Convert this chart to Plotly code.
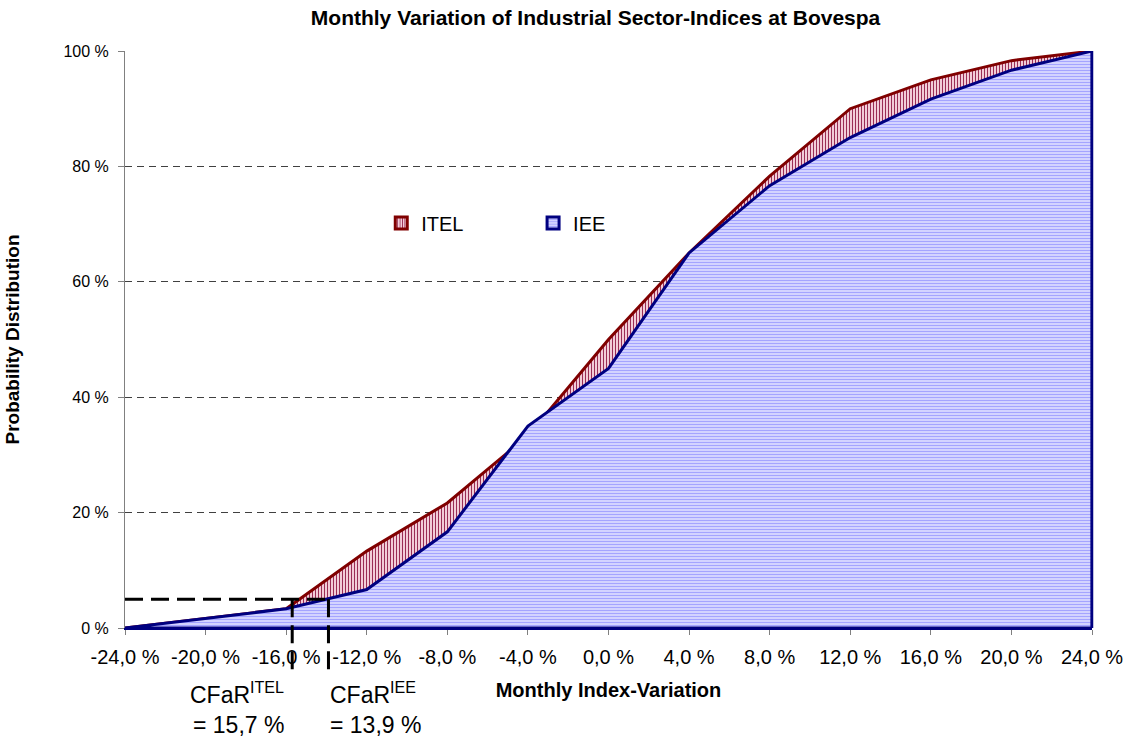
import plotly.graph_objects as go

# Monthly index variation (x, in %) and cumulative probability (y, in %)
variation = [-24, -20, -16, -12, -8, -4, 0, 4, 8, 12, 16, 20, 24]
itel = [0.0, 1.67, 3.33, 13.33, 21.67, 33.33, 50.0, 65.0, 78.33, 90.0, 95.0, 98.33, 100.0]
iee = [0.0, 1.67, 3.33, 6.67, 16.67, 35.0, 45.0, 65.0, 76.67, 85.0, 91.67, 96.67, 100.0]

x_tick_labels = ["-24,0 %", "-20,0 %", "-16,0 %", "-12,0 %", "-8,0 %", "-4,0 %", "0,0 %",
                 "4,0 %", "8,0 %", "12,0 %", "16,0 %", "20,0 %", "24,0 %"]
y_ticks = [0, 20, 40, 60, 80, 100]
y_tick_labels = ["0 %", "20 %", "40 %", "60 %", "80 %", "100 %"]

# Cash-flow-at-risk readings at the 5 % probability level
cfar_level = 5
cfar_itel = 15.7
cfar_iee = 13.9
cfar_itel_label = "15,7 %"
cfar_iee_label = "13,9 %"

FONT = "Arial, 'Liberation Sans', sans-serif"
RED_LINE = "#800000"
BLUE_LINE = "#000080"

itel_pattern = dict(shape="|", fgcolor="#9a2d55", bgcolor="#f2cdd8", size=3, solidity=0.35)
iee_pattern = dict(shape="-", fgcolor="#a4a4ff", bgcolor="#d8d8ff", size=3, solidity=0.4)

# closed polygons: curve, then down the right edge and back along the baseline
poly_x = variation + [variation[-1], variation[0]]

fig = go.Figure()
fig.add_trace(go.Scatter(
    x=poly_x, y=itel + [0, 0], mode="lines", fill="toself",
    fillpattern=itel_pattern, line=dict(color=RED_LINE, width=3),
    showlegend=False, hoverinfo="skip"))
fig.add_trace(go.Scatter(
    x=poly_x, y=iee + [0, 0], mode="lines", fill="toself",
    fillpattern=iee_pattern, line=dict(color=BLUE_LINE, width=3),
    showlegend=False, hoverinfo="skip"))

# legend entries (square patterned swatches)
fig.add_trace(go.Bar(x=[None], y=[None], name="ITEL", legend="legend",
                     marker=dict(color="#f2cdd8", pattern=itel_pattern,
                                 line=dict(color=RED_LINE, width=3))))
fig.add_trace(go.Bar(x=[None], y=[None], name="IEE", legend="legend2",
                     marker=dict(color="#d8d8ff", pattern=iee_pattern,
                                 line=dict(color=BLUE_LINE, width=3))))

# right-hand edge of the IEE area along the plot frame
fig.add_shape(type="line", xref="paper", yref="y", x0=1, x1=1, y0=0, y1=iee[-1],
              line=dict(color=BLUE_LINE, width=2.5), layer="above")

# dashed CFaR guides
guide = dict(color="black", width=3, dash="18px,8px")
fig.add_shape(type="line", xref="x", yref="y", x0=variation[0], x1=-cfar_iee,
              y0=cfar_level, y1=cfar_level, line=guide, layer="above")
for v in (cfar_itel, cfar_iee):
    fig.add_shape(type="line", xref="x", yref="paper", x0=-v, x1=-v,
                  y0=cfar_level / 100, y1=-0.084, line=guide, layer="above")

ann_font = dict(family=FONT, size=23, color="black")
fig.add_annotation(x=-cfar_itel, xref="x", y=-0.113, yref="paper", xanchor="right",
                   yanchor="middle", xshift=-6, showarrow=False,
                   text="CFaR<sup>ITEL</sup>", font=ann_font)
fig.add_annotation(x=-cfar_itel, xref="x", y=-0.168, yref="paper", xanchor="right",
                   yanchor="middle", xshift=-6, showarrow=False,
                   text="= " + cfar_itel_label, font=ann_font)
fig.add_annotation(x=-cfar_iee, xref="x", y=-0.113, yref="paper", xanchor="left",
                   yanchor="middle", xshift=0, showarrow=False,
                   text="CFaR<sup>IEE</sup>", font=ann_font)
fig.add_annotation(x=-cfar_iee, xref="x", y=-0.168, yref="paper", xanchor="left",
                   yanchor="middle", xshift=0, showarrow=False,
                   text="= " + cfar_iee_label, font=ann_font)

legend_common = dict(orientation="h", yanchor="middle", y=0.702, xanchor="left",
                     bgcolor="rgba(0,0,0,0)", borderwidth=0,
                     font=dict(family=FONT, size=20, color="black"))

fig.update_layout(
    template="none",
    width=1126, height=738,
    margin=dict(l=125, r=34, t=51, b=110, autoexpand=False),
    paper_bgcolor="white", plot_bgcolor="white",
    font=dict(family=FONT, color="black"),
    title=dict(text="<b>Monthly Variation of Industrial Sector-Indices at Bovespa</b>",
               x=0.4866, xref="paper", xanchor="center",
               y=1 - 18 / 738, yref="container", yanchor="middle",
               font=dict(family=FONT, size=21, color="black")),
    legend=dict(x=0.265, **legend_common),
    legend2=dict(x=0.422, **legend_common),
    xaxis=dict(range=[variation[0], variation[-1]], tickvals=variation, ticktext=x_tick_labels,
               showgrid=False, zeroline=False, showline=True, linecolor=BLUE_LINE, linewidth=2,
               ticks="outside", ticklen=5, tickcolor="#808080", automargin=False,
               ticklabelstandoff=5,
               tickfont=dict(family=FONT, size=20, color="black"),
               title=dict(text="<b>Monthly Index-Variation</b>", standoff=16,
                          font=dict(family=FONT, size=20, color="black"))),
    yaxis=dict(range=[0, 100], tickvals=y_ticks, ticktext=y_tick_labels,
               showgrid=True, gridcolor="#404040", gridwidth=1, griddash="7px,5px",
               zeroline=False, showline=True, linecolor="#808080", linewidth=1,
               ticks="outside", ticklen=6, tickcolor="#808080", automargin=False,
               ticklabelstandoff=6,
               tickfont=dict(family=FONT, size=16, color="black"),
               title=dict(text="<b>Probability Distribution</b>", standoff=38,
                          font=dict(family=FONT, size=19, color="black"))),
    barmode="overlay",
)

fig.write_html("out.html")
